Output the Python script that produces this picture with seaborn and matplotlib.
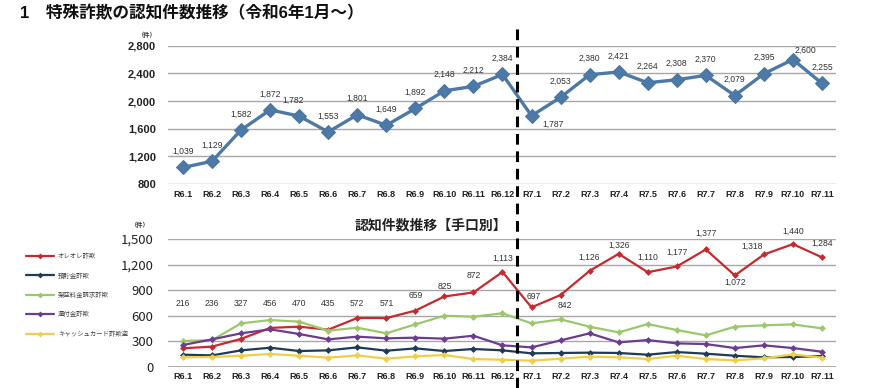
import matplotlib
matplotlib.use("Agg")
import matplotlib.pyplot as plt
import seaborn as sns
import pandas as pd
from matplotlib.transforms import blended_transform_factory
from matplotlib.lines import Line2D

# ---------------- data ----------------
months = ["R6.1", "R6.2", "R6.3", "R6.4", "R6.5", "R6.6", "R6.7", "R6.8", "R6.9",
          "R6.10", "R6.11", "R6.12", "R7.1", "R7.2", "R7.3", "R7.4", "R7.5", "R7.6",
          "R7.7", "R7.8", "R7.9", "R7.10", "R7.11"]
total = [1039, 1129, 1582, 1872, 1782, 1553, 1801, 1649, 1892, 2148, 2212, 2384,
         1787, 2053, 2380, 2421, 2264, 2308, 2370, 2079, 2395, 2600, 2255]
oreore = [216, 236, 327, 456, 470, 435, 572, 571, 659, 825, 872, 1113,
          697, 842, 1126, 1326, 1110, 1177, 1377, 1072, 1318, 1440, 1284]
yochokin = [141, 133, 192, 223, 184, 192, 227, 188, 215, 184, 208, 192,
            157, 161, 165, 161, 141, 172, 153, 129, 110, 114, 125]
kakuu = [302, 313, 509, 548, 529, 423, 458, 392, 497, 599, 588, 627,
         509, 556, 470, 403, 501, 431, 368, 470, 486, 497, 450]
kanpu = [255, 321, 392, 439, 384, 321, 353, 333, 341, 329, 364, 251,
         227, 309, 392, 286, 313, 274, 266, 219, 251, 219, 176]
cashcard = [110, 114, 129, 149, 129, 106, 133, 94, 121, 137, 90, 82,
            71, 94, 118, 110, 90, 129, 90, 74, 98, 145, 106]
methods = ["オレオレ詐欺", "預貯金詐欺", "架空料金請求詐欺", "還付金詐欺", "キャッシュカード詐欺盗"]
method_values = [oreore, yochokin, kakuu, kanpu, cashcard]
method_colors = ["#c62a2f", "#1f3b57", "#9cc86c", "#6a3d8e", "#f0cf48"]

title = "1　特殊詐欺の認知件数推移（令和6年1月～）"
subtitle = "認知件数推移【手口別】"
unit = "（件）"

# ---------------- style ----------------
sns.set_theme(style="white")
plt.rcParams["font.family"] = ["Liberation Sans", "Noto Sans CJK JP", "DejaVu Sans"]

W, H = 870, 388
fig = plt.figure(figsize=(W / 100, H / 100), dpi=100)
fig.patch.set_facecolor("white")

x_idx = list(range(len(months)))
left_px, width_px = 168.5, 668

ax1 = fig.add_axes([left_px / W, 1 - 184 / H, width_px / W, (184 - 45.7) / H])
ax2 = fig.add_axes([left_px / W, 1 - 366.7 / H, width_px / W, (366.7 - 239) / H])

# ---------------- top chart ----------------
df_top = pd.DataFrame({"x": x_idx, "total": total})
sns.lineplot(data=df_top, x="x", y="total", ax=ax1, color="#4d79a6", lw=2.4,
             marker="D", markersize=7, markeredgecolor="#4a75a2", clip_on=False, zorder=3)
ax1.set_xlim(-0.5, len(months) - 0.5)
ax1.set_ylim(800, 2800)
ax1.set_yticks(range(800, 2801, 400))
ax1.set_yticklabels([f"{v:,}" for v in range(800, 2801, 400)], fontsize=8,
                    fontweight="bold", color="#222222")
ax1.set_xticks(x_idx)
ax1.set_xticklabels(months, fontsize=6.5, fontweight="bold", color="#222222")
ax1.tick_params(axis="y", length=0, pad=9)
ax1.tick_params(axis="x", length=0, pad=4)
ax1.grid(axis="y", color="#a8a8a8", lw=1)
ax1.set_xlabel("")
ax1.set_ylabel("")
for s in ax1.spines.values():
    s.set_visible(False)

top_shift = {4: (-6, 16), 12: (22, -9), 21: (13, 9)}
for i, v in enumerate(total):
    dx, dy = top_shift.get(i, (0, 16))
    ax1.annotate(f"{v:,}", (i, v), xytext=(dx, dy), textcoords="offset pixels",
                 ha="center", va="center", fontsize=6.2, color="#333333")

fig.text(147 / W, 1 - 35 / H, unit, fontsize=4.5, ha="center", va="center",
         color="#333333", fontweight="bold")

# ---------------- bottom chart ----------------
df_bot = pd.DataFrame({
    "x": x_idx * len(methods),
    "count": sum(method_values, []),
    "method": [m for m in methods for _ in months],
})
sns.lineplot(data=df_bot, x="x", y="count", hue="method", hue_order=methods,
             palette=method_colors, ax=ax2, lw=1.6, marker="D", markersize=3.5,
             markeredgewidth=0, legend=False, zorder=3)
ax2.set_xlim(-0.5, len(months) - 0.5)
ax2.set_ylim(0, 1500)
ax2.set_yticks(range(0, 1501, 300))
ax2.set_yticklabels([f"{v:,}" for v in range(0, 1501, 300)], fontsize=9.5,
                    color="#222222", family=["Noto Sans CJK JP", "DejaVu Sans"])
ax2.set_xticks(x_idx)
ax2.set_xticklabels(months, fontsize=6.5, fontweight="bold", color="#222222")
ax2.tick_params(axis="y", length=0, pad=11)
ax2.tick_params(axis="x", length=0, pad=4)
ax2.grid(axis="y", color="#a8a8a8", lw=1)
ax2.axhline(0, color="#9a9a9a", lw=1.8, zorder=1)
ax2.set_xlabel("")
ax2.set_ylabel("")
for s in ax2.spines.values():
    s.set_visible(False)

# data labels for オレオレ詐欺
bot_dy = [0, 0, 0, 0, 0, 0, 0, 0, 15, 10, 17, 14,
          11, -10, 14, 9, 15, 14, 16, -7, 8, 13, 14]
bot_dx = [0] * 12 + [2, 4, 0, 0, 0, 0, 0, 0, -12, 0, 0]
for i, v in enumerate(oreore):
    if i < 8:
        ax2.text(i, 745, f"{v:,}", ha="center", va="center", fontsize=6.2, color="#333333")
    else:
        ax2.annotate(f"{v:,}", (i, v), xytext=(bot_dx[i], bot_dy[i]),
                     textcoords="offset pixels", ha="center", va="center",
                     fontsize=6.2, color="#333333")

fig.text(140 / W, 1 - 225 / H, unit, fontsize=4.5, ha="center", va="center",
         color="#333333", fontweight="bold")
fig.text(431 / W, 1 - 225 / H, subtitle, fontsize=10, fontweight="bold",
         ha="center", va="center", color="#222222")

handles = [Line2D([0], [0], color=c, lw=1.6, marker="D", markersize=3,
                  markeredgewidth=0) for c in method_colors]
leg = ax2.legend(handles, methods, loc="upper left", bbox_to_anchor=(26 / W, 1 - 253 / H),
                 bbox_transform=fig.transFigure, frameon=False, fontsize=4.6,
                 handlelength=4.4, handletextpad=0.6, labelspacing=2.05,
                 borderpad=0, borderaxespad=0)
for t in leg.get_texts():
    t.set_color("#444444")

# ---------------- dashed divider & title ----------------
tr = blended_transform_factory(ax1.transData, fig.transFigure)
fig.add_artist(Line2D([11.5, 11.5], [0, 1 - 28 / H], transform=tr, color="black",
                      lw=2.2, linestyle=(0, (3.5, 2.2))))

fig.text(20 / W, 1 - 13 / H, title, fontsize=12, fontweight="bold",
         ha="left", va="center", color="#111111")

fig.savefig("out.png", dpi=100, facecolor="white")
